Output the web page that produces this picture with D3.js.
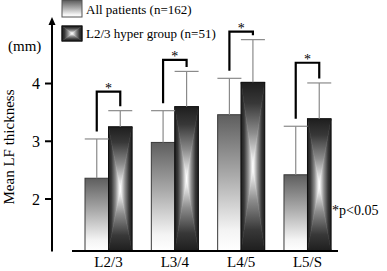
<!DOCTYPE html>
<html><head><meta charset="utf-8">
<script src="https://cdn.jsdelivr.net/npm/d3@7"></script>
<style>
html,body{margin:0;padding:0;background:#fff;}
svg{display:block;font-family:"Liberation Serif","Times New Roman",serif;}
</style></head>
<body><svg id="c" width="387" height="271"></svg>
<script>
const categories = ["L2/3", "L3/4", "L4/5", "L5/S"];
const allMean = [2.36, 2.98, 3.46, 2.42];
const allSD = [0.68, 0.55, 0.63, 0.84];
const hyperMean = [3.25, 3.60, 4.02, 3.39];
const hyperSD = [0.28, 0.61, 0.74, 0.62];
const bracketTop = [3.86, 4.41, 4.90, 4.36];
const yTicks = [2, 3, 4];
const seriesNames = ["All patients (n=162)", "L2/3 hyper group (n=51)"];

const svg = d3.select("#c");
const defs = svg.append("defs");

const y = d3.scaleLinear().domain([1.1, 5.1]).range([251, 20]);
const x0 = d3.scaleBand().domain(categories).range([85, 331]).paddingInner(0.291).paddingOuter(0);
const x1 = d3.scaleBand().domain([0, 1]).range([0, x0.bandwidth()]);

// gradients
const lg = defs.append("linearGradient").attr("id", "lightG").attr("x1", 0).attr("y1", 0).attr("x2", 0).attr("y2", 1);
[[0, "#5e5e5e"], [0.45, "#ababab"], [0.85, "#f4f4f4"], [1, "#ffffff"]].forEach(s => lg.append("stop").attr("offset", s[0]).attr("stop-color", s[1]));

const darkStops = [[0, "#1e1e1e"], [0.25, "#383838"], [0.6, "#8c8c8c"], [0.88, "#e4e4e4"], [1, "#ffffff"]];
const dirs = {top: [0, 0, 0, 1], bottom: [0, 1, 0, 0], left: [0, 0, 1, 0], right: [1, 0, 0, 0]};
Object.entries(dirs).forEach(([k, v]) => {
  const g = defs.append("linearGradient").attr("id", "dg_" + k)
    .attr("x1", v[0]).attr("y1", v[1]).attr("x2", v[2]).attr("y2", v[3]);
  darkStops.forEach(s => g.append("stop").attr("offset", s[0]).attr("stop-color", s[1]));
});

function rectGradient(parent, x, yy, w, h) {
  const cx = x + w / 2, cy = yy + h / 2;
  const tris = {
    top: [[x, yy], [x + w, yy], [cx, cy]],
    bottom: [[x, yy + h], [x + w, yy + h], [cx, cy]],
    left: [[x, yy], [x, yy + h], [cx, cy]],
    right: [[x + w, yy], [x + w, yy + h], [cx, cy]]
  };
  Object.entries(tris).forEach(([k, pts]) => {
    parent.append("polygon").attr("points", pts.map(p => p.join(",")).join(" "))
      .attr("fill", `url(#dg_${k})`).attr("stroke", `url(#dg_${k})`).attr("stroke-width", 0.6);
  });
}

// bars
categories.forEach((c, i) => {
  const gx = x0(c);
  const lx = gx + x1(0), w = x1.bandwidth();
  svg.append("rect").attr("x", lx).attr("y", y(allMean[i])).attr("width", w)
    .attr("height", y.range()[0] - y(allMean[i])).attr("fill", "url(#lightG)")
    .attr("stroke", "#3a3a3a").attr("stroke-width", 1);
  const dx = gx + x1(1);
  const dg = svg.append("g");
  rectGradient(dg, dx, y(hyperMean[i]), w, y.range()[0] - y(hyperMean[i]));
  svg.append("rect").attr("x", dx).attr("y", y(hyperMean[i])).attr("width", w)
    .attr("height", y.range()[0] - y(hyperMean[i])).attr("fill", "none")
    .attr("stroke", "#111").attr("stroke-width", 1);
  [[lx, allMean[i], allSD[i]], [dx, hyperMean[i], hyperSD[i]]].forEach(([bx, m, sd]) => {
    const cx = bx + w / 2;
    svg.append("line").attr("x1", cx).attr("x2", cx).attr("y1", y(m)).attr("y2", y(m + sd))
      .attr("stroke", "#8a8a8a").attr("stroke-width", 1.2);
    svg.append("line").attr("x1", cx - 12).attr("x2", cx + 12).attr("y1", y(m + sd)).attr("y2", y(m + sd))
      .attr("stroke", "#8a8a8a").attr("stroke-width", 1.2);
  });
  const lcx = lx + w / 2, rcx = dx + w / 2;
  const bt = y(bracketTop[i]);
  const lb = y(allMean[i] + allSD[i]) - 7.5;
  const rb = y(hyperMean[i] + hyperSD[i]) - 4.5;
  svg.append("path").attr("d", `M${lcx},${lb}V${bt}H${rcx}V${rb}`)
    .attr("fill", "none").attr("stroke", "#000").attr("stroke-width", 2.2);
  svg.append("text").attr("x", (lcx + rcx) / 2).attr("y", bt + 1).attr("text-anchor", "middle")
    .attr("font-size", 14).text("*");
});

// y axis
svg.append("line").attr("x1", 52).attr("x2", 52).attr("y1", 251.5).attr("y2", 24)
  .attr("stroke", "#000").attr("stroke-width", 2);
svg.append("path").attr("d", "M52,17 L48.5,25 L55.5,25 Z").attr("fill", "#000");
yTicks.forEach(t => {
  svg.append("line").attr("x1", 45).attr("x2", 52).attr("y1", y(t)).attr("y2", y(t))
    .attr("stroke", "#000").attr("stroke-width", 2);
  svg.append("text").attr("x", 40).attr("y", y(t) + 5.5).attr("text-anchor", "end")
    .attr("font-size", 16).text(t);
});
svg.append("text").attr("x", 8).attr("y", 51).attr("font-size", 15).text("(mm)");
svg.append("text").attr("transform", "translate(14,147) rotate(-90)").attr("text-anchor", "middle")
  .attr("font-size", 15).text("Mean LF thickness");

// x axis
svg.append("line").attr("x1", 72).attr("x2", 338).attr("y1", 251).attr("y2", 251)
  .attr("stroke", "#000").attr("stroke-width", 2);
categories.forEach(c => {
  svg.append("text").attr("x", x0(c) + x0.bandwidth() / 2).attr("y", 267).attr("text-anchor", "middle")
    .attr("font-size", 15).text(c);
});

svg.append("text").attr("x", 332).attr("y", 215).attr("font-size", 14).text("*p<0.05");

// legend
svg.append("rect").attr("x", 62).attr("y", 0.5).attr("width", 20).attr("height", 16.5)
  .attr("fill", "url(#lightG)").attr("stroke", "#555").attr("stroke-width", 1);
const lgG = svg.append("g");
rectGradient(lgG, 62, 26, 20, 15);
svg.append("rect").attr("x", 62).attr("y", 26).attr("width", 20).attr("height", 15)
  .attr("fill", "none").attr("stroke", "#111").attr("stroke-width", 1.2);
svg.append("text").attr("x", 86).attr("y", 14).attr("font-size", 13).text(seriesNames[0]);
svg.append("text").attr("x", 86).attr("y", 38).attr("font-size", 13).text(seriesNames[1]);
</script></body></html>
